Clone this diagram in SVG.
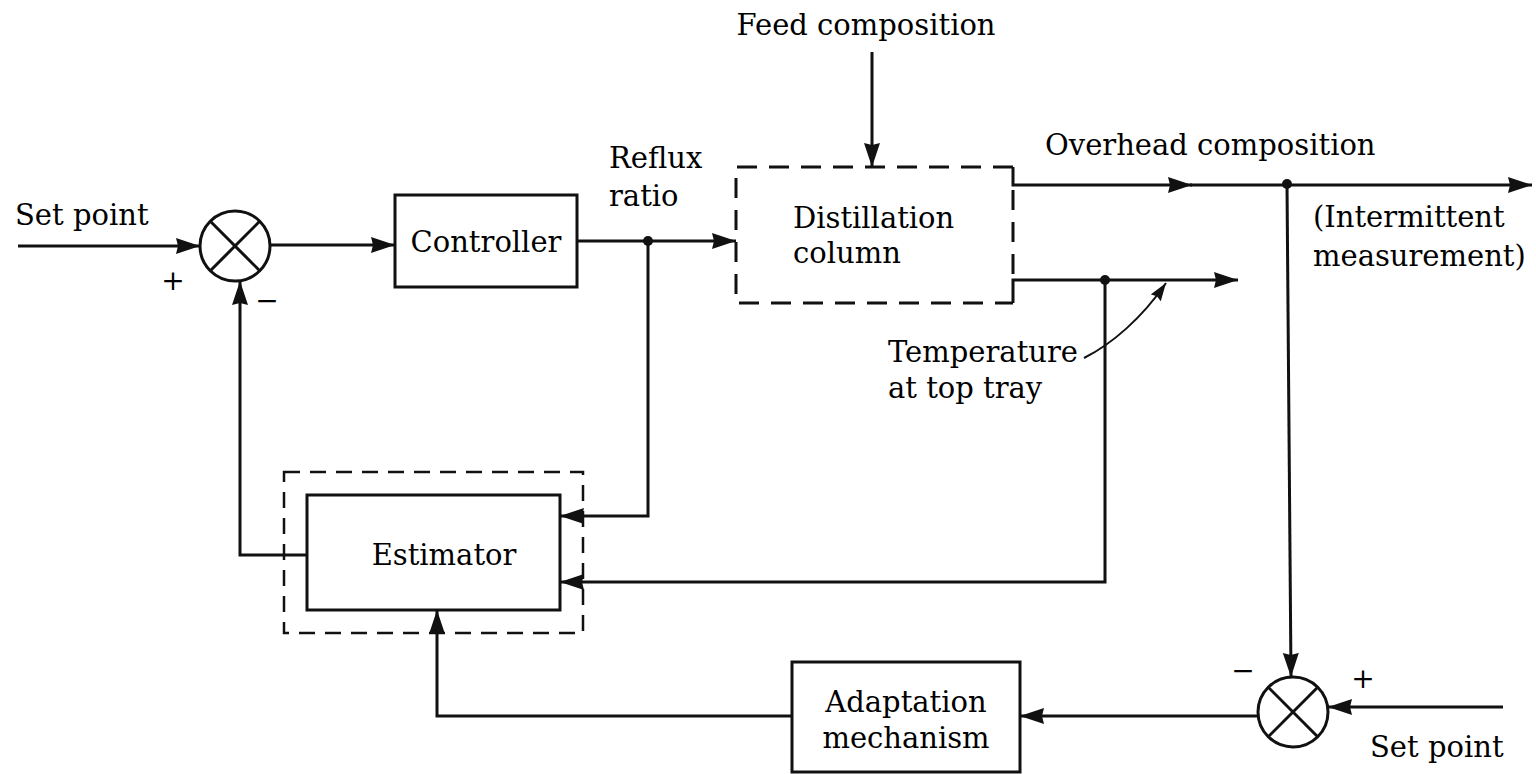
<svg xmlns="http://www.w3.org/2000/svg" width="1536" height="774" viewBox="0 0 1536 774">
<defs>
<style>
.t{font-family:"DejaVu Serif","Liberation Serif",serif;font-size:29px;fill:#000}
.s{font-family:"DejaVu Serif","Liberation Serif",serif;font-size:28px;fill:#000}
.ln{fill:none;stroke:#111;stroke-width:3}
.box{fill:#fff;stroke:#111;stroke-width:3}
.dash{fill:none;stroke:#111;stroke-width:3;stroke-dasharray:20 12}
.dash2{fill:none;stroke:#111;stroke-width:2.5;stroke-dasharray:16 10}
.ar{marker-end:url(#ah)}
.dot{fill:#111}
</style>
<marker id="ah" markerUnits="userSpaceOnUse" markerWidth="26" markerHeight="18" refX="24" refY="8" orient="auto">
<path d="M0,0 L24,8 L0,16 L2,8 Z" fill="#111"/>
</marker>
<marker id="ahs" markerUnits="userSpaceOnUse" markerWidth="20" markerHeight="14" refX="18" refY="6" orient="auto">
<path d="M0,0 L18,6 L0,12 L2,6 Z" fill="#111"/>
</marker>
</defs>
<rect width="1536" height="774" fill="#fff"/>

<g id="sum1">
<circle cx="235" cy="246" r="35" class="ln"/>
<line x1="210.3" y1="221.3" x2="259.7" y2="270.7" class="ln"/>
<line x1="259.7" y1="221.3" x2="210.3" y2="270.7" class="ln"/>
<text x="173" y="290" class="s" text-anchor="middle">+</text>
<text x="267" y="310" class="s" text-anchor="middle">−</text>
</g>

<g id="controller">
<rect x="395" y="195" width="182" height="92" class="box"/>
<text x="486" y="252" class="t" text-anchor="middle">Controller</text>
</g>

<g id="column">
<path d="M1013,167 L736,167 L736,303 L1013,303" class="dash"/>
<line x1="1013" y1="190" x2="1013" y2="276" class="dash"/>
<text x="793" y="228" class="t">Distillation</text>
<text x="793" y="263" class="t">column</text>
</g>

<g id="estimator">
<rect x="284" y="472" width="299" height="161" class="dash2"/>
<rect x="307" y="495" width="253" height="115" class="box"/>
<text x="444" y="565" class="t" text-anchor="middle">Estimator</text>
</g>

<g id="adaptation">
<rect x="792" y="662" width="228" height="110" class="box"/>
<text x="906" y="712" class="t" text-anchor="middle">Adaptation</text>
<text x="906" y="748" class="t" text-anchor="middle">mechanism</text>
</g>

<g id="sum2">
<circle cx="1293" cy="712" r="35" class="ln"/>
<line x1="1268.3" y1="687.3" x2="1317.7" y2="736.7" class="ln"/>
<line x1="1317.7" y1="687.3" x2="1268.3" y2="736.7" class="ln"/>
<text x="1243" y="680" class="s" text-anchor="middle">−</text>
<text x="1363" y="688" class="s" text-anchor="middle">+</text>
</g>

<g id="labels">
<text x="15" y="225" class="t">Set point</text>
<text x="866" y="35" class="t" text-anchor="middle">Feed composition</text>
<text x="609" y="168" class="t">Reflux</text>
<text x="609" y="206" class="t">ratio</text>
<text x="1045" y="155" class="t">Overhead composition</text>
<text x="1313" y="227" class="t">(Intermittent</text>
<text x="1313" y="266" class="t">measurement)</text>
<text x="888" y="362" class="t">Temperature</text>
<text x="888" y="398" class="t">at top tray</text>
<text x="1370" y="757" class="t">Set point</text>
</g>

<g id="connectors">
<line x1="18" y1="246" x2="200" y2="246" class="ln ar"/>
<line x1="270" y1="245" x2="395" y2="245" class="ln ar"/>
<line x1="577" y1="241" x2="736" y2="241" class="ln ar"/>
<circle cx="648" cy="241" r="5" class="dot"/>
<polyline points="648,241 648,516 560,516" class="ln ar"/>
<line x1="872" y1="52" x2="872" y2="167" class="ln ar"/>
<polyline points="1013,167 1013,185 1192,185" class="ln ar"/>
<line x1="1190" y1="185" x2="1532" y2="185" class="ln ar"/>
<polyline points="1013,303 1013,280 1238,280" class="ln ar"/>
<circle cx="1105" cy="280" r="5" class="dot"/>
<polyline points="1105,280 1105,582 560,582" class="ln ar"/>
<circle cx="1287" cy="184" r="5" class="dot"/>
<polyline points="1287,184 1291,677" class="ln ar"/>
<line x1="1503" y1="707" x2="1328" y2="707" class="ln ar"/>
<line x1="1258" y1="716" x2="1020" y2="716" class="ln ar"/>
<polyline points="792,716 437,716 437,610" class="ln ar"/>
<polyline points="307,555 240,555 240,281" class="ln ar"/>
<path d="M1084,358 C1112,344 1142,318 1166,283" fill="none" stroke="#111" stroke-width="2" marker-end="url(#ahs)"/>
</g>
</svg>
